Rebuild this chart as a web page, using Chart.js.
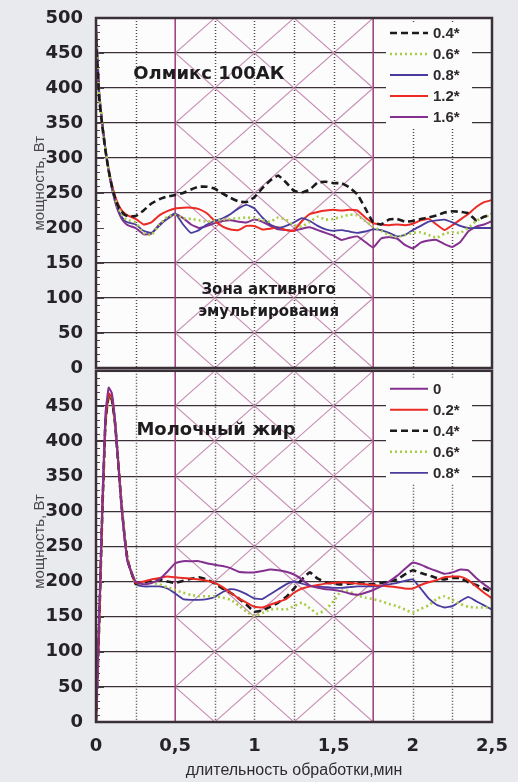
<!DOCTYPE html>
<html lang="ru">
<head>
<meta charset="UTF-8">
<title>Мощность эмульгирования</title>
<script src="https://cdn.jsdelivr.net/npm/chart.js"></script>
<style>
  body { margin: 0; background: #e9eaee; font-family: 'Liberation Sans', Arial, sans-serif; }
  .wrap { position: relative; width: 518px; height: 782px; }
  .wrap canvas { position: absolute; left: 0; }
  #topChart { top: 0; }
  #bottomChart { top: 360px; }
</style>
</head>
<body>
<div class="wrap">
  <canvas id="topChart" width="518" height="386"></canvas>
  <canvas id="bottomChart" width="518" height="422"></canvas>
</div>
<script>
// time, min
const time = [0, 0.02, 0.04, 0.06, 0.08, 0.1, 0.12, 0.14, 0.16, 0.18, 0.2,
  0.25, 0.3, 0.35, 0.4, 0.45, 0.5, 0.55, 0.6, 0.65, 0.7, 0.75, 0.8, 0.85, 0.9, 0.95,
  1, 1.05, 1.1, 1.15, 1.2, 1.25, 1.3, 1.35, 1.4, 1.45, 1.5, 1.55, 1.6, 1.65, 1.7, 1.75,
  1.8, 1.85, 1.9, 1.95, 2, 2.05, 2.1, 2.15, 2.2, 2.25, 2.3, 2.35, 2.4, 2.45, 2.5];

// Олмикс 100АК, W
const olmiks04 = [470,385,345,310,282,260,243,231,224,219,217,
  217,225,235,241,245,247,250,255,259,259,256,249,243,238,237,244,257,268,275,265,
  253,251,255,265,266,264,264,258,248,228,208,205,212,213,209,210,213,215,218,222,
  224,223,221,211,216,220];
const olmiks06 = [480,390,348,312,283,260,242,229,220,214,211,
  208,193,190,205,216,219,214,213,211,209,210,212,213,214,215,214,211,209,215,212,
  204,202,209,216,212,213,216,219,218,210,202,196,190,187,190,193,194,190,186,192,
  194,193,200,210,216,218];
const olmiks08 = [485,392,350,312,282,258,240,226,217,211,208,
  205,196,193,203,214,221,205,193,197,205,210,214,220,228,233,228,215,205,200,203,
  208,214,210,203,198,196,197,195,193,195,198,197,193,188,190,197,203,209,211,212,
  208,203,200,200,200,200];
const olmiks12 = [478,388,347,311,283,262,246,234,226,221,218,
  213,205,208,218,224,228,229,229,227,221,210,202,198,197,203,203,198,199,201,197,
  196,210,220,223,225,226,225,226,225,215,207,205,204,205,204,206,211,213,205,197,
  204,212,220,230,237,240];
const olmiks16 = [495,395,350,312,281,257,238,224,214,208,204,
  200,191,192,205,213,220,214,205,200,203,207,210,211,209,208,212,209,203,198,197,
  196,199,201,197,193,189,183,186,188,180,172,185,187,185,176,171,179,182,183,177,
  173,180,195,202,205,210];

// Молочный жир, W
const fat0 = [0,150,310,440,476,468,430,372,310,262,228,
  200,196,198,203,214,226,229,229,229,226,224,222,219,214,213,213,215,217,216,214,
  210,203,194,191,189,188,186,183,181,184,188,193,200,208,218,227,224,219,215,211,
  213,217,216,205,196,188];
const fat02 = [0,140,300,430,468,462,428,372,312,264,230,
  198,200,203,205,207,206,205,204,203,201,198,192,184,176,170,164,163,167,171,175,
  184,190,193,195,197,198,199,198,197,196,195,194,193,192,190,190,195,199,202,206,
  207,207,202,193,184,176];
const fat04 = [0,140,300,428,465,460,426,370,312,265,230,
  197,199,201,203,200,198,201,204,206,203,197,190,184,176,167,157,159,164,170,178,
  190,203,213,204,199,197,196,197,198,197,196,198,200,203,210,216,212,209,205,203,
  205,205,199,195,190,185];
const fat06 = [0,140,298,425,462,458,425,372,315,268,232,
  196,199,198,196,192,188,184,181,179,179,179,177,174,166,157,151,155,160,161,160,
  165,170,162,154,160,172,187,186,180,177,175,172,168,165,160,156,161,166,175,179,
  174,168,164,163,163,163];
const fat08 = [0,140,300,428,465,458,424,368,310,262,228,
  196,193,193,193,190,183,175,174,174,175,178,185,189,187,182,176,175,182,189,196,
  200,197,194,193,192,191,191,192,193,193,193,194,196,198,201,203,190,176,167,163,
  165,172,178,172,166,160];

const xTicks = [0, 0.5, 1, 1.5, 2, 2.5];
const dottedAt = [0.25, 0.75, 1, 1.25, 1.5, 2, 2.25];
const zone = [0.5, 1.75];

const BLACK = '#1c1a1c', GREEN = '#a8cc44', BLUE = '#4a3c9e', RED = '#ec2b25', PURPLE = '#83308f';
const GRID = '#3b3038';
const BOLD = '"DejaVu Sans", Verdana, sans-serif';
const PLAIN = '"Liberation Sans", Arial, sans-serif';

function series(label, arr, color, dash, width) {
  return {
    label,
    data: time.map((t, i) => ({ x: t, y: arr[i] })),
    borderColor: color,
    borderWidth: width || 2,
    borderDash: dash || [],
    pointRadius: 0,
    tension: 0.12,
    fill: false
  };
}

// chart area background, zone hatching, vertical grid, frame, legend and labels
const panelPlugin = {
  id: 'panel',
  beforeDraw(chart) {
    const { ctx, chartArea: a } = chart;
    ctx.save();
    ctx.fillStyle = '#fcfcfc';
    ctx.fillRect(a.left, a.top, a.right - a.left, a.bottom - a.top);
    ctx.restore();
  },
  beforeDatasetsDraw(chart) {
    const { ctx, chartArea: a, scales: { x, y } } = chart;
    ctx.save();
    // hatching of the active zone
    const zl = x.getPixelForValue(zone[0]), zr = x.getPixelForValue(zone[1]);
    ctx.beginPath();
    ctx.rect(zl, a.top, zr - zl, a.bottom - a.top);
    ctx.clip();
    ctx.strokeStyle = '#c98fb4';
    ctx.lineWidth = 1.1;
    const span = (zone[1] - zone[0]) * 200;
    for (let c = -400; c <= 1000; c += 100) {
      const c0 = c + 50;
      ctx.beginPath();
      ctx.moveTo(zl, y.getPixelForValue(c0));
      ctx.lineTo(zr, y.getPixelForValue(c0 + span));
      ctx.moveTo(zl, y.getPixelForValue(c0));
      ctx.lineTo(zr, y.getPixelForValue(c0 - span));
      ctx.stroke();
    }
    ctx.restore();

    ctx.save();
    // dotted vertical grid
    ctx.strokeStyle = '#4f474d';
    ctx.lineWidth = 1.5;
    ctx.setLineDash([1, 2]);
    dottedAt.forEach(v => {
      const px = Math.round(x.getPixelForValue(v)) + 0.5;
      ctx.beginPath();
      ctx.moveTo(px, a.top);
      ctx.lineTo(px, a.bottom);
      ctx.stroke();
    });
    ctx.setLineDash([]);
    // zone borders
    ctx.strokeStyle = '#a3457f';
    ctx.lineWidth = 1.6;
    zone.forEach(v => {
      const px = x.getPixelForValue(v);
      ctx.beginPath();
      ctx.moveTo(px, a.top);
      ctx.lineTo(px, a.bottom);
      ctx.stroke();
    });
    // minor ticks on the value axis
    ctx.strokeStyle = '#4a4248';
    ctx.lineWidth = 1;
    for (let v = 10; v < 500; v += 10) {
      const py = Math.round(y.getPixelForValue(v)) + 0.5;
      ctx.beginPath();
      ctx.moveTo(a.left, py);
      ctx.lineTo(a.left + (v % 50 === 0 ? 8 : 4), py);
      ctx.stroke();
    }
    ctx.restore();
  },
  afterDatasetsDraw(chart, args, opts) {
    const { ctx, chartArea: a, scales: { x, y } } = chart;
    ctx.save();
    // legend box
    const rows = chart.data.datasets;
    const rowH = 21;
    const y0 = a.top + opts.legendTop;
    const bx = a.right - 106, bw = 86;
    ctx.fillStyle = '#fcfcfc';
    ctx.fillRect(bx, y0 - 11, bw, rowH * (rows.length - 1) + 22);
    rows.forEach((ds, i) => {
      const ry = y0 + i * rowH;
      ctx.strokeStyle = ds.borderColor;
      ctx.lineWidth = ds.borderWidth;
      ctx.setLineDash(ds.borderDash);
      ctx.beginPath();
      ctx.moveTo(a.right - 102, ry);
      ctx.lineTo(a.right - 64, ry);
      ctx.stroke();
      ctx.setLineDash([]);
      ctx.fillStyle = '#2e2a2e';
      ctx.font = 'bold 15px ' + PLAIN;
      ctx.textBaseline = 'middle';
      ctx.textAlign = 'left';
      ctx.fillText(ds.label, a.right - 59, ry + 1);
    });
    // frame
    ctx.strokeStyle = GRID;
    ctx.lineWidth = 2.5;
    ctx.strokeRect(a.left, a.top, a.right - a.left, a.bottom - a.top);
    // labels
    ctx.fillStyle = '#1e1c1e';
    ctx.textBaseline = 'alphabetic';
    opts.labels.forEach(l => {
      ctx.font = 'bold ' + l.size + 'px ' + BOLD;
      ctx.textAlign = l.align;
      ctx.fillText(l.text, x.getPixelForValue(l.x), y.getPixelForValue(l.y));
    });
    // value axis title
    ctx.translate(40, y.getPixelForValue(opts.yTitleAt));
    ctx.rotate(-Math.PI / 2);
    ctx.font = '15px ' + PLAIN;
    ctx.fillStyle = '#4a474c';
    ctx.textAlign = 'center';
    ctx.textBaseline = 'middle';
    ctx.fillText('мощность, Вт', 0, 0);
    ctx.restore();
  }
};

function yAxis(hideTop) {
  return {
    min: 0, max: 500,
    afterFit(scale) { scale.width = 96; },
    ticks: {
      stepSize: 50,
      padding: 0,
      color: '#262326',
      font: { family: BOLD, size: 18, weight: 'bold' },
      callback: v => (hideTop && v === 500) ? '' : v
    },
    grid: {
      drawTicks: true,
      tickLength: 13,
      tickColor: 'rgba(0,0,0,0)',
      lineWidth: 1.3,
      color: c => (!hideTop && c.tick && c.tick.value === 200) ? 'rgba(0,0,0,0)' : GRID
    },
    border: { display: false }
  };
}

new Chart(document.getElementById('topChart'), {
  type: 'line',
  data: {
    datasets: [
      series('0.4*', olmiks04, BLACK, [7, 4], 2.6),
      series('0.6*', olmiks06, GREEN, [2, 3], 2.6),
      series('0.8*', olmiks08, BLUE, [], 1.8),
      series('1.2*', olmiks12, RED, [], 2),
      series('1.6*', olmiks16, PURPLE, [], 2)
    ]
  },
  options: {
    responsive: false,
    animation: false,
    layout: { padding: { top: 18, right: 26, bottom: 18, left: 0 } },
    scales: {
      x: { type: 'linear', min: 0, max: 2.5, display: false },
      y: yAxis(false)
    },
    plugins: {
      legend: { display: false },
      tooltip: { enabled: false },
      panel: {
        legendTop: 15,
        yTitleAt: 264,
        labels: [
          { text: 'Олмикс 100АК', x: 0.235, y: 413, size: 18, align: 'left' },
          { text: 'Зона активного', x: 1.09, y: 106, size: 15, align: 'center' },
          { text: 'эмульгирования', x: 1.09, y: 74, size: 15, align: 'center' }
        ]
      }
    }
  },
  plugins: [panelPlugin]
});

new Chart(document.getElementById('bottomChart'), {
  type: 'line',
  data: {
    datasets: [
      series('0', fat0, PURPLE, [], 2),
      series('0.2*', fat02, RED, [], 2),
      series('0.4*', fat04, BLACK, [7, 4], 2.6),
      series('0.6*', fat06, GREEN, [2, 3], 2.6),
      series('0.8*', fat08, BLUE, [], 1.8)
    ]
  },
  options: {
    responsive: false,
    animation: false,
    layout: { padding: { top: 0, right: 26, bottom: 0, left: 0 } },
    scales: {
      x: {
        type: 'linear', min: 0, max: 2.5,
        afterFit(scale) { scale.height = 60; },
        afterBuildTicks(scale) { scale.ticks = xTicks.map(v => ({ value: v })); },
        ticks: {
          padding: 0,
          color: '#262326',
          font: { family: BOLD, size: 18, weight: 'bold' },
          maxRotation: 0,
          callback: v => String(v).replace('.', ',')
        },
        grid: { display: true, drawOnChartArea: false, drawTicks: true, tickLength: 14, color: 'rgba(0,0,0,0)' },
        border: { display: false },
        title: {
          display: true,
          text: 'длительность обработки,мин',
          color: '#2e2a2e',
          padding: { bottom: 2 },
          font: { family: PLAIN, size: 16 }
        }
      },
      y: yAxis(true)
    },
    plugins: {
      legend: { display: false },
      tooltip: { enabled: false },
      panel: {
        legendTop: 18,
        yTitleAt: 257,
        labels: [
          { text: 'Молочный жир', x: 0.255, y: 409, size: 18, align: 'left' }
        ]
      }
    }
  },
  plugins: [panelPlugin]
});
</script>
</body>
</html>
